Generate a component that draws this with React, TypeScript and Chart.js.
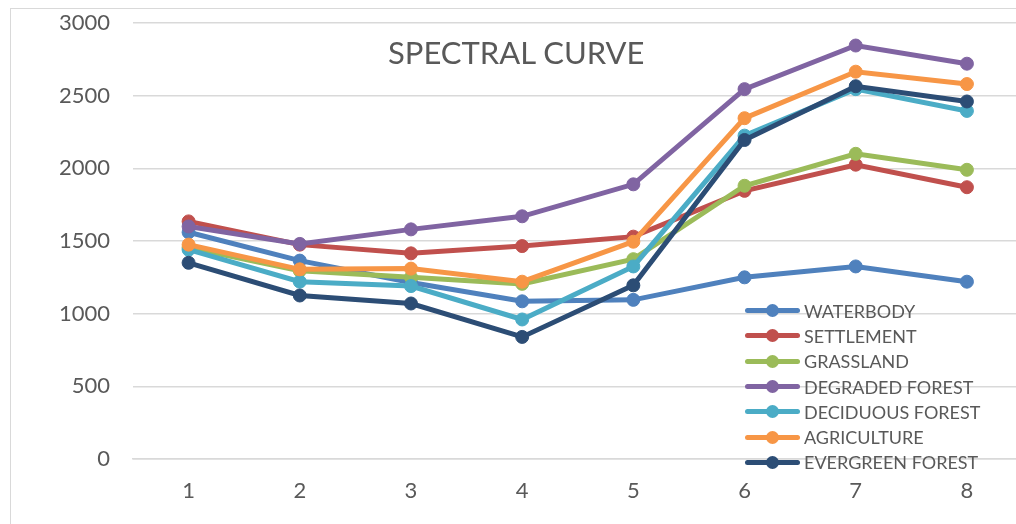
import React, { useEffect, useRef } from "react";
import { Chart, registerables } from "chart.js";

Chart.register(...registerables);

const categories = ["1", "2", "3", "4", "5", "6", "7", "8"];
const seriesNames = [
  "WATERBODY",
  "SETTLEMENT",
  "GRASSLAND",
  "DEGRADED FOREST",
  "DECIDUOUS FOREST",
  "AGRICULTURE",
  "EVERGREEN FOREST",
];
const waterbody = [1560, 1365, 1215, 1085, 1095, 1250, 1325, 1220];
const settlement = [1635, 1475, 1415, 1465, 1530, 1845, 2025, 1870];
const grassland = [1455, 1295, 1250, 1205, 1375, 1880, 2100, 1990];
const degradedForest = [1600, 1480, 1580, 1670, 1890, 2545, 2845, 2720];
const deciduousForest = [1440, 1220, 1190, 960, 1325, 2225, 2545, 2395];
const agriculture = [1475, 1305, 1310, 1220, 1495, 2345, 2665, 2580];
const evergreenForest = [1350, 1125, 1070, 840, 1195, 2195, 2565, 2460];
const yTicks = [0, 500, 1000, 1500, 2000, 2500, 3000];

const seriesValues = [
  waterbody,
  settlement,
  grassland,
  degradedForest,
  deciduousForest,
  agriculture,
  evergreenForest,
];
const colors = ["#4F81BD", "#C0504D", "#9BBB59", "#8064A2", "#4BACC6", "#F79646", "#2C4D75"];

const FONT = "Lato, 'Open Sans', sans-serif";
const TEXT = "#595959";

export default function App() {
  const ref = useRef<HTMLCanvasElement>(null);
  useEffect(() => {
    const canvas = ref.current;
    if (!canvas) return;
    const n = seriesNames.length;
    const chart = new Chart(canvas, {
      type: "line",
      data: {
        labels: categories,
        datasets: seriesNames.map((name, i) => ({
          label: name,
          data: seriesValues[i],
          borderColor: colors[i],
          backgroundColor: colors[i],
          pointBackgroundColor: colors[i],
          pointBorderColor: colors[i],
          borderWidth: 5,
          pointRadius: 6.5,
          pointBorderWidth: 1,
          tension: 0,
          order: n - i,
        })),
      },
      options: {
        animation: false,
        responsive: false,
        maintainAspectRatio: false,
        layout: { padding: { top: 23, left: 0, right: 0, bottom: 0 } },
        plugins: {
          legend: { display: false },
          title: { display: false },
          tooltip: { enabled: false },
        },
        scales: {
          x: {
            offset: true,
            grid: { display: false, drawTicks: false, offset: true },
            border: { display: true, color: "#D9D9D9", width: 1.5 },
            ticks: {
              color: TEXT,
              font: { family: FONT, size: 22 },
              padding: 19,
            },
            afterFit: (axis: any) => {
              axis.height = 65;
              axis.paddingLeft = 0;
              axis.paddingRight = 0;
            },
          },
          y: {
            min: 0,
            max: 3000,
            afterBuildTicks: (axis: any) => {
              axis.ticks = yTicks.map((v) => ({ value: v }));
            },
            grid: { color: "#D9D9D9", lineWidth: 1.5, drawTicks: false },
            border: { display: false },
            ticks: {
              color: TEXT,
              font: { family: FONT, size: 22 },
              padding: 23,
              callback: (v: any) => String(v),
            },
            afterFit: (axis: any) => {
              axis.width = 133;
              axis.paddingTop = 0;
              axis.paddingBottom = 0;
            },
          },
        },
      },
    });
    return () => chart.destroy();
  }, []);

  return (
    <div
      style={{
        position: "fixed",
        left: 0,
        top: 0,
        width: 1030,
        height: 524,
        background: "#fff",
        overflow: "hidden",
      }}
    >
      <canvas ref={ref} width={1030} height={524} style={{ position: "absolute", left: 0, top: 0 }} />
      <div
        style={{
          position: "absolute",
          left: 10,
          top: 8,
          width: 1100,
          height: 600,
          border: "1.5px solid #D9D9D9",
          pointerEvents: "none",
        }}
      />
      <div
        style={{
          position: "absolute",
          left: 388,
          top: 32,
          fontFamily: FONT,
          fontSize: 31,
          color: TEXT,
          whiteSpace: "nowrap",
          lineHeight: "40px",
        }}
      >
        SPECTRAL CURVE
      </div>
      <div style={{ position: "absolute", left: 745, top: 298 }}>
        {seriesNames.map((name, i) => (
          <div
            key={name}
            style={{ display: "flex", alignItems: "center", height: 25.3 }}
          >
            <div style={{ position: "relative", width: 55, height: 14, marginRight: 4 }}>
              <div
                style={{
                  position: "absolute",
                  left: 0,
                  top: 4.5,
                  width: 55,
                  height: 5,
                  borderRadius: 2.5,
                  background: colors[i],
                }}
              />
              <div
                style={{
                  position: "absolute",
                  left: 20.5,
                  top: 0.5,
                  width: 13,
                  height: 13,
                  borderRadius: 6.5,
                  background: colors[i],
                }}
              />
            </div>
            <span
              style={{
                fontFamily: FONT,
                fontSize: 18,
                color: TEXT,
                whiteSpace: "nowrap",
                lineHeight: "20px",
              }}
            >
              {name}
            </span>
          </div>
        ))}
      </div>
    </div>
  );
}
